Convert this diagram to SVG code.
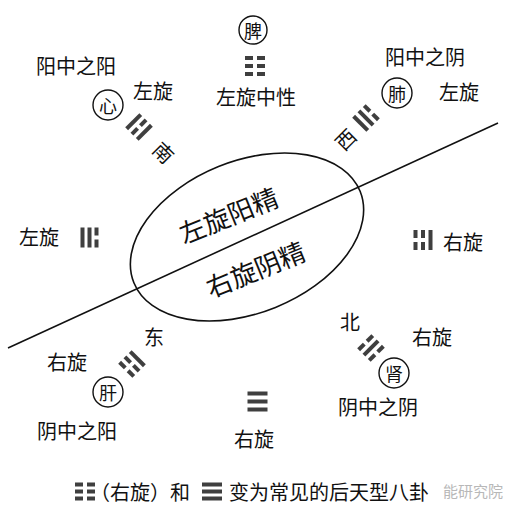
<svg xmlns="http://www.w3.org/2000/svg" width="513" height="513" viewBox="0 0 513 513">
<style>
.t{font-family:"Noto Sans CJK SC","Noto Sans CJK JP",sans-serif;font-size:20px;fill:#111;text-anchor:middle;dominant-baseline:central}
.c{font-size:18px}
.big{font-size:26px}
.ring{fill:none;stroke:#111;stroke-width:1.4}
.bar{fill:#3f3f3f}
.ln{fill:none;stroke:#111;stroke-width:1.6}
.wm{font-family:"Noto Sans CJK SC",sans-serif;font-size:15px;fill:#b8b8b8;dominant-baseline:central}
</style>
<defs>
<g id="s"><rect class="bar" x="-10" y="-2" width="20" height="4"/></g>
<g id="b"><rect class="bar" x="-10" y="-2" width="8" height="4"/><rect class="bar" x="2" y="-2" width="8" height="4"/></g>
</defs>
<rect width="513" height="513" fill="#fff"/>

<g id="connectors">
<line class="ln" x1="8" y1="348" x2="498" y2="123"/>
</g>

<g id="center-ellipse">
<ellipse class="ln" cx="247" cy="237" rx="122" ry="76" transform="rotate(-22 247 237)"/>
<text class="t big" x="228" y="214" transform="rotate(-22 228 214)">左旋阳精</text>
<text class="t big" x="255" y="268" transform="rotate(-22 255 268)">右旋阴精</text>
</g>

<g id="top-pi">
<circle class="ring" cx="253" cy="30" r="14"/>
<text class="t c" x="253" y="30">脾</text>
<g transform="translate(255 66)"><use href="#b" y="-8"/><use href="#b"/><use href="#b" y="8"/></g>
<text class="t" x="256" y="96">左旋中性</text>
</g>

<g id="upper-left-xin">
<text class="t" x="76" y="65">阳中之阳</text>
<circle class="ring" cx="108" cy="105" r="15"/>
<text class="t c" x="108" y="105">心</text>
<text class="t" x="153" y="90">左旋</text>
<g transform="translate(139 127) rotate(-45)"><use href="#s" y="-7.5"/><use href="#b"/><use href="#s" y="7.5"/></g>
<text class="t" x="164" y="152" font-size="19" transform="rotate(45 164 152)">南</text>
</g>

<g id="upper-right-fei">
<text class="t" x="425" y="56">阳中之阴</text>
<circle class="ring" cx="397" cy="93" r="15"/>
<text class="t c" x="397" y="93">肺</text>
<text class="t" x="459" y="91">左旋</text>
<g transform="translate(366 118) rotate(45)"><use href="#b" y="-7.5"/><use href="#s"/><use href="#s" y="7.5"/></g>
<text class="t" x="345" y="139" font-size="19" transform="rotate(-45 345 139)">西</text>
</g>

<g id="left">
<text class="t" x="39" y="236">左旋</text>
<g transform="translate(89.5 237.5) rotate(-90)"><use href="#s" y="-7"/><use href="#s"/><use href="#b" y="7"/></g>
</g>

<g id="right">
<g transform="translate(423 240) rotate(90)"><use href="#s" y="-7.5"/><use href="#b"/><use href="#b" y="7.5"/></g>
<text class="t" x="463" y="241">右旋</text>
</g>

<g id="lower-left-gan">
<text class="t" x="154" y="336">东</text>
<text class="t" x="67" y="361">右旋</text>
<g transform="translate(132 364) rotate(-135)"><use href="#b" y="-7.5"/><use href="#b"/><use href="#s" y="7.5"/></g>
<circle class="ring" cx="108" cy="392" r="15"/>
<text class="t c" x="108" y="392">肝</text>
<text class="t" x="77" y="430">阴中之阳</text>
</g>

<g id="lower-right-shen">
<text class="t" x="350" y="321">北</text>
<text class="t" x="432" y="336">右旋</text>
<g transform="translate(371 348) rotate(135)"><use href="#b" y="-7.5"/><use href="#s"/><use href="#b" y="7.5"/></g>
<circle class="ring" cx="394" cy="373" r="15"/>
<text class="t c" x="394" y="373">肾</text>
<text class="t" x="378" y="406">阴中之阴</text>
</g>

<g id="bottom">
<g transform="translate(257.5 401.5)"><use href="#s" y="-8"/><use href="#s"/><use href="#s" y="8"/></g>
<text class="t" x="254" y="438">右旋</text>
</g>

<g id="caption">
<g transform="translate(85 491.5)"><use href="#b" y="-7"/><use href="#b"/><use href="#b" y="7"/></g>
<text class="t" x="90" y="491" style="text-anchor:start">（右旋）和</text>
<g transform="translate(212 491.5)"><use href="#s" y="-7"/><use href="#s"/><use href="#s" y="7"/></g>
<text class="t" x="229" y="491" font-size="21" style="text-anchor:start">变为常见的后天型八卦</text>
<text class="wm" x="443" y="490">能研究院</text>
</g>
</svg>
